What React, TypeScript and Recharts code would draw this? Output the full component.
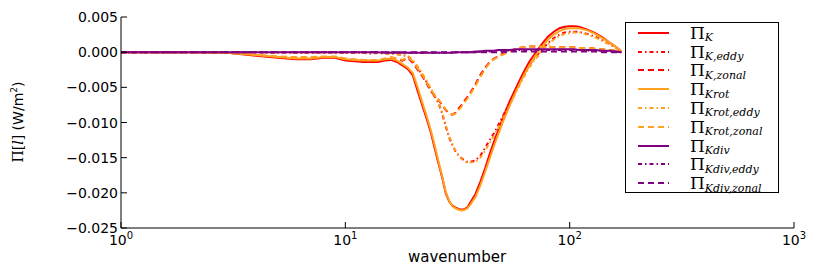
import React from "react";
import { LineChart, Line, XAxis, YAxis } from "recharts";

// wavenumber samples (log x axis)
const wavenumbers = [
  1, 2, 3, 4, 5, 6, 7, 8, 9, 10,
  11, 12, 13, 14, 15, 16, 17, 18, 19, 20,
  21, 22, 23, 24, 25, 26, 27, 28, 29, 30,
  31, 32, 33, 34, 35, 36, 38, 40, 42, 44,
  46, 48, 50, 54, 58, 62, 66, 70, 75, 80,
  85, 90, 95, 100, 105, 110, 120, 130, 140, 150,
  160, 170,
];

const piK = [
  0, 0, -0.0001, -0.0005, -0.0008, -0.001, -0.001, -0.0008, -0.0008, -0.0012,
  -0.0013, -0.0014, -0.0014, -0.0014, -0.0012, -0.0011, -0.0014, -0.0019, -0.0024, -0.0033,
  -0.0055, -0.0075, -0.0094, -0.0113, -0.0136, -0.0158, -0.0178, -0.02, -0.0212, -0.0218,
  -0.0221, -0.0223, -0.0224, -0.0223, -0.0221, -0.0214, -0.0202, -0.0184, -0.0165, -0.0145,
  -0.0127, -0.0111, -0.0096, -0.007, -0.0049, -0.003, -0.0014, -0.0002, 0.0011, 0.0022,
  0.0029, 0.0034, 0.0036, 0.0037, 0.0037, 0.0036, 0.0032, 0.0027, 0.0021, 0.0014,
  0.0008, 0.0001,
];
const piKEddy = [
  0, 0, 0, 0, -0.0001, -0.0001, -0.0001, -0.0001, -0.0001, -0.0001,
  -0.0001, -0.0001, -0.0002, -0.0001, -0.0002, -0.0002, -0.0003, -0.0004, -0.0006, -0.0013,
  -0.0022, -0.0032, -0.0042, -0.0053, -0.0063, -0.0072, -0.0087, -0.0105, -0.0121, -0.0132,
  -0.0141, -0.0147, -0.0151, -0.0154, -0.0156, -0.0156, -0.0154, -0.0147, -0.0136, -0.0125,
  -0.0115, -0.0104, -0.0093, -0.0072, -0.0051, -0.0033, -0.0019, -0.0008, 0.0003, 0.0013,
  0.002, 0.0025, 0.0028, 0.0029, 0.0029, 0.0029, 0.0026, 0.0022, 0.0017, 0.0012,
  0.0007, 0.0001,
];
const piKZonal = [
  0, 0, -0.0001, -0.0004, -0.0007, -0.0008, -0.0008, -0.0007, -0.0007, -0.001,
  -0.0011, -0.0012, -0.0012, -0.0012, -0.001, -0.0008, -0.001, -0.0012, -0.0008, -0.0015,
  -0.0025, -0.0034, -0.0044, -0.0055, -0.0062, -0.0068, -0.0075, -0.0082, -0.0087, -0.0089,
  -0.0086, -0.008, -0.0075, -0.0069, -0.0064, -0.0058, -0.0046, -0.0032, -0.0022, -0.0014,
  -0.0009, -0.0006, -0.0003, 0.0001, 0.0005, 0.0007, 0.0008, 0.0008, 0.0008, 0.0008,
  0.0007, 0.0007, 0.0007, 0.0007, 0.0007, 0.0006, 0.0006, 0.0005, 0.0004, 0.0003,
  0.0002, 0,
];
const piKrot = [
  0, 0, -0.0001, -0.0004, -0.0007, -0.0009, -0.0009, -0.0007, -0.0007, -0.001,
  -0.0011, -0.0012, -0.0012, -0.0012, -0.001, -0.0009, -0.0012, -0.0017, -0.0022, -0.003,
  -0.005, -0.0071, -0.009, -0.011, -0.0132, -0.0155, -0.0176, -0.0198, -0.0211, -0.0219,
  -0.0222, -0.0224, -0.0225, -0.0224, -0.0222, -0.0217, -0.0206, -0.0189, -0.017, -0.0151,
  -0.0133, -0.0117, -0.0102, -0.0076, -0.0054, -0.0035, -0.0019, -0.0006, 0.0007, 0.0018,
  0.0025, 0.003, 0.0033, 0.0034, 0.0034, 0.0034, 0.0031, 0.0026, 0.002, 0.0014,
  0.0008, 0.0001,
];
const piKrotEddy = [
  0, 0, 0, 0, -0.0001, -0.0001, -0.0001, -0.0001, -0.0001, -0.0001,
  -0.0001, -0.0001, -0.0001, -0.0001, -0.0002, -0.0002, -0.0003, -0.0004, -0.0005, -0.0011,
  -0.002, -0.003, -0.004, -0.0051, -0.0061, -0.0071, -0.0085, -0.0103, -0.0119, -0.0131,
  -0.014, -0.0147, -0.0152, -0.0155, -0.0157, -0.0157, -0.0156, -0.015, -0.014, -0.0129,
  -0.0119, -0.0108, -0.0097, -0.0076, -0.0055, -0.0037, -0.0022, -0.0011, 0.0001, 0.0011,
  0.0018, 0.0023, 0.0026, 0.0027, 0.0028, 0.0028, 0.0025, 0.0021, 0.0016, 0.0011,
  0.0006, 0.0001,
];
const piKrotZonal = [
  0, 0, -0.0001, -0.0004, -0.0006, -0.0007, -0.0007, -0.0006, -0.0006, -0.0009,
  -0.001, -0.0011, -0.0011, -0.0011, -0.0009, -0.0007, -0.0009, -0.0011, -0.0007, -0.0013,
  -0.0023, -0.0032, -0.0042, -0.0053, -0.0061, -0.0067, -0.0074, -0.0081, -0.0086, -0.0089,
  -0.0087, -0.0082, -0.0077, -0.0071, -0.0066, -0.006, -0.0048, -0.0035, -0.0024, -0.0015,
  -0.001, -0.0007, -0.0004, 0.0001, 0.0005, 0.0007, 0.0008, 0.0008, 0.0008, 0.0008,
  0.0007, 0.0007, 0.0007, 0.0007, 0.0007, 0.0006, 0.0006, 0.0005, 0.0004, 0.0003,
  0.0002, 0,
];
const piKdiv = [
  0, 0, 0, 0, 0, 0, 0, 0, 0, 0,
  0, 0, 0, 0, -0.0001, -0.0001, -0.0001, -0.0001, -0.0001, -0.0001,
  -0.0001, -0.0001, -0.0001, -0.0001, -0.0001, -0.0001, -0.0001, -0.0001, -0.0001, -0.0001,
  0, 0, 0, 0, 0, 0, 0.0001, 0.0001, 0.0002, 0.0002,
  0.0002, 0.0003, 0.0003, 0.0003, 0.0004, 0.0004, 0.0004, 0.0004, 0.0004, 0.0004,
  0.0004, 0.0004, 0.0004, 0.0004, 0.0004, 0.0003, 0.0003, 0.0003, 0.0002, 0.0002,
  0.0001, 0,
];
const piKdivEddy = [
  0, 0, 0, 0, 0, 0, 0, 0, 0, 0,
  0, 0, 0, 0, 0, 0, 0, 0, -0.0001, -0.0001,
  -0.0001, -0.0001, -0.0001, -0.0001, -0.0001, -0.0001, -0.0001, -0.0001, -0.0001, -0.0001,
  0, 0, 0, 0, 0, 0, 0, 0.0001, 0.0001, 0.0001,
  0.0002, 0.0002, 0.0002, 0.0002, 0.0003, 0.0003, 0.0003, 0.0003, 0.0003, 0.0003,
  0.0003, 0.0003, 0.0003, 0.0003, 0.0003, 0.0003, 0.0002, 0.0002, 0.0002, 0.0001,
  0.0001, 0,
];
const piKdivZonal = [
  0, 0, 0, 0, 0, 0, 0, 0, 0, 0,
  0, 0, 0, 0, 0, 0, 0, 0, 0, 0,
  0, 0, 0, 0, 0, 0, 0, 0, 0, 0,
  0, 0, 0, 0, 0, 0, 0, 0, 0, 0,
  0, 0, 0, 0.0001, 0.0001, 0.0001, 0.0001, 0.0001, 0.0001, 0.0001,
  0.0001, 0.0001, 0.0001, 0.0001, 0.0001, 0.0001, 0.0001, 0.0001, 0, 0,
  0, 0,
];

const xMajorTicks = [1, 10, 100, 1000];
const xMinorTicks = [
  2, 3, 4, 5, 6, 7, 8, 9, 20, 30, 40, 50, 60, 70, 80, 90, 200, 300, 400, 500, 600, 700, 800, 900,
];
const yTicks = [0.005, 0, -0.005, -0.01, -0.015, -0.02, -0.025];

const RED = "#ff0000";
const ORANGE = "#ffa01e";
const PURPLE = "#800080";
const EDDY_DASH = "4 3 1.5 3";
const ZONAL_DASH = "6 4";

const series = [
  { key: "K", sub: "K", values: piK, color: RED, dash: undefined },
  { key: "Keddy", sub: "K,eddy", values: piKEddy, color: RED, dash: EDDY_DASH },
  { key: "Kzonal", sub: "K,zonal", values: piKZonal, color: RED, dash: ZONAL_DASH },
  { key: "Krot", sub: "Krot", values: piKrot, color: ORANGE, dash: undefined },
  { key: "Kroteddy", sub: "Krot,eddy", values: piKrotEddy, color: ORANGE, dash: EDDY_DASH },
  { key: "Krotzonal", sub: "Krot,zonal", values: piKrotZonal, color: ORANGE, dash: ZONAL_DASH },
  { key: "Kdiv", sub: "Kdiv", values: piKdiv, color: PURPLE, dash: undefined },
  { key: "Kdiveddy", sub: "Kdiv,eddy", values: piKdivEddy, color: PURPLE, dash: EDDY_DASH },
  { key: "Kdivzonal", sub: "Kdiv,zonal", values: piKdivZonal, color: PURPLE, dash: ZONAL_DASH },
];

const data = wavenumbers.map((k, i) => {
  const row: any = { k };
  series.forEach((s) => (row[s.key] = s.values[i]));
  return row;
});

const FONT = "'DejaVu Sans', sans-serif";
const SERIF = "'DejaVu Serif', 'Liberation Serif', serif";

const XTick = ({ x, y, payload }: any) => {
  const exp = Math.round(Math.log10(payload.value));
  return (
    <text x={x} y={y} dy={13} textAnchor="middle" fontFamily={FONT} fontSize={14} fill="#000">
      <tspan>10</tspan>
      <tspan dy={-6} fontSize={10}>{exp}</tspan>
    </text>
  );
};

const fmtY = (v: number) => (v < 0 ? "\u2212" : "") + Math.abs(v).toFixed(3);

const YTick = ({ x, y, payload }: any) => (
  <text x={x} y={y} dy={5} textAnchor="end" fontFamily={FONT} fontSize={14} fill="#000">
    {fmtY(payload.value)}
  </text>
);

const YLabel = () => (
  <text
    transform="translate(23,122) rotate(-90)"
    textAnchor="middle"
    fontSize={14}
    fill="#000"
  >
    <tspan fontFamily={SERIF}>Π[</tspan>
    <tspan fontFamily={SERIF} fontStyle="italic">l</tspan>
    <tspan fontFamily={SERIF}>]</tspan>
    <tspan fontFamily={FONT}> (W/m</tspan>
    <tspan fontFamily={FONT} fontSize={9} dy={-6}>2</tspan>
    <tspan fontFamily={FONT} dy={6}>)</tspan>
  </text>
);

const ChartLegend = () => (
  <div
    style={{
      position: "absolute",
      left: 625,
      top: 22,
      width: 154,
      height: 171,
      border: "1px solid #000",
      background: "#fff",
      boxSizing: "border-box",
    }}
  >
    {series.map((s, i) => (
      <div
        key={s.key}
        style={{
          position: "absolute",
          left: 0,
          top: 9.7 + i * 18.8 - 9,
          height: 18,
          display: "flex",
          alignItems: "center",
        }}
      >
        <svg width={60} height={18} style={{ display: "block" }}>
          <line
            x1={12}
            x2={43}
            y1={9}
            y2={9}
            stroke={s.color}
            strokeWidth={2}
            strokeDasharray={s.dash}
          />
        </svg>
        <span style={{ fontFamily: SERIF, fontSize: 17, lineHeight: "18px", marginLeft: 4 }}>Π</span>
        <span
          style={{
            fontFamily: SERIF,
            fontStyle: "italic",
            fontSize: 11,
            position: "relative",
            top: 5,
          }}
        >
          {s.sub}
        </span>
      </div>
    ))}
  </div>
);

export default function App() {
  return (
    <div style={{ position: "absolute", left: 0, top: 0, width: 830, height: 273, background: "#fff" }}>
      <LineChart
        width={830}
        height={273}
        data={data}
        margin={{ top: 17, right: 36, bottom: 15, left: 51 }}
      >
        <XAxis
          xAxisId="bm"
          dataKey="k"
          type="number"
          scale="log"
          domain={[1, 1000]}
          allowDataOverflow
          ticks={xMinorTicks}
          tick={false}
          tickSize={-3}
          axisLine={false}
          height={0}
          stroke="#000"
          interval={0}
        />
        <XAxis
          xAxisId="b"
          dataKey="k"
          type="number"
          scale="log"
          domain={[1, 1000]}
          allowDataOverflow
          ticks={xMajorTicks}
          tick={<XTick />}
          tickSize={-6}
          tickMargin={10}
          height={30}
          stroke="#000"
          interval={0}
        />
        <XAxis
          xAxisId="tm"
          orientation="top"
          dataKey="k"
          type="number"
          scale="log"
          domain={[1, 1000]}
          allowDataOverflow
          ticks={xMinorTicks}
          tick={false}
          tickSize={-3}
          axisLine={false}
          height={0}
          stroke="#000"
          interval={0}
        />
        <XAxis
          xAxisId="t"
          orientation="top"
          dataKey="k"
          type="number"
          scale="log"
          domain={[1, 1000]}
          allowDataOverflow
          ticks={xMajorTicks}
          tick={false}
          tickSize={-6}
          height={0}
          stroke="#000"
          interval={0}
        />
        <YAxis
          yAxisId="l"
          type="number"
          domain={[-0.025, 0.005]}
          allowDataOverflow
          ticks={yTicks}
          tick={<YTick />}
          tickSize={-6}
          tickMargin={9}
          width={70}
          stroke="#000"
          interval={0}
          label={{ content: () => <YLabel /> }}
        />
        <YAxis
          yAxisId="r"
          orientation="right"
          type="number"
          domain={[-0.025, 0.005]}
          allowDataOverflow
          ticks={yTicks}
          tick={false}
          tickSize={-6}
          width={0}
          stroke="#000"
          interval={0}
        />
        {series.map((s) => (
          <Line
            key={s.key}
            xAxisId="b"
            yAxisId="l"
            dataKey={s.key}
            type="linear"
            stroke={s.color}
            strokeWidth={2}
            strokeDasharray={s.dash}
            dot={false}
            isAnimationActive={false}
          />
        ))}
        <text x={457} y={262} textAnchor="middle" fontFamily={FONT} fontSize={15} fill="#000">
          wavenumber
        </text>
      </LineChart>
      <ChartLegend />
    </div>
  );
}
